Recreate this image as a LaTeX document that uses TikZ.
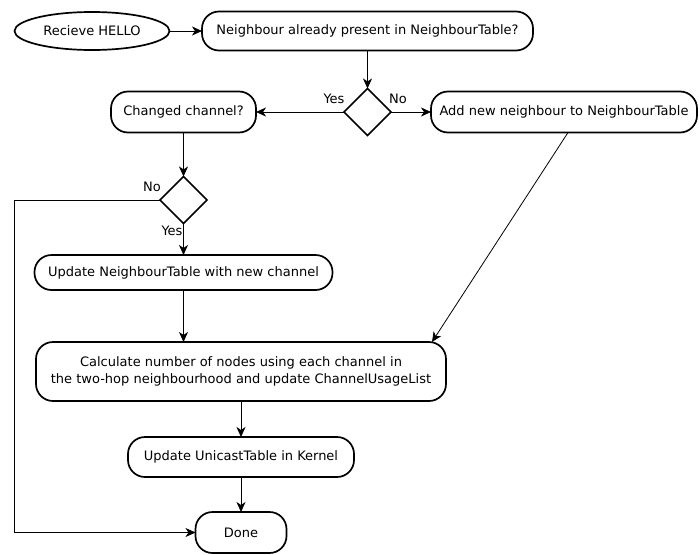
\documentclass[tikz,border=0pt]{standalone}
\usepackage{fontspec}
\setmainfont{DejaVu Sans}
\usetikzlibrary{shapes,arrows.meta,positioning}

\begin{document}
\begin{tikzpicture}[x=1pt, y=-1pt, >={Stealth[length=10pt,width=9pt,inset=3pt]}, font=\fontsize{13}{17}\selectfont,
  every node/.style={outer sep=0pt},
  box/.style={draw, line width=1.7pt, rounded corners=17pt, minimum height=39pt, inner sep=0pt},
  choice/.style={draw, diamond, line width=1.7pt, minimum width=47pt, minimum height=47pt, inner sep=0pt},
  link/.style={->, line width=0.8pt}]
\useasboundingbox (0,0) rectangle (700,554);

% Top row
\node[draw, ellipse, line width=1.7pt, minimum width=155pt, minimum height=38pt, inner sep=0pt] (hello) at (92,31) {Recieve HELLO};
\node[box, minimum width=331pt] (present) at (367.5,31) {Neighbour already present in NeighbourTable?};

% First decision
\node[choice] (known) at (367.5,112) {};
\node[box, minimum width=145pt, minimum height=41pt] (changed) at (183.5,112) {Changed channel?};
\node[box, minimum width=266pt, minimum height=41pt] (add) at (564,112) {Add new neighbour to NeighbourTable};
\node (yes1) at (334,99) {Yes};
\node (no1) at (398,99) {No};

% Second decision
\node[choice] (moved) at (183.5,200) {};
\node (no2) at (152,187) {No};
\node (yes2) at (172,231) {Yes};
\coordinate (bend) at (14,200);

% Lower column
\node[box, minimum width=298pt, minimum height=35pt] (update) at (183.5,272.5) {Update NeighbourTable with new channel};
\node[box, minimum width=410pt, minimum height=59pt, align=center] (calc) at (241,371.5) {Calculate number of nodes using each channel in\\the two-hop neighbourhood and update ChannelUsageList};
\node[box, minimum width=226pt, minimum height=40pt] (kernel) at (241,457) {Update UnicastTable in Kernel};
\node[box, minimum width=91pt, minimum height=41pt] (done) at (241,532.5) {Done};

% Connectors
\draw[link] (hello) -- (present);
\draw[link] (present) -- (known);
\draw[link] (known.west) -- (changed.east);
\draw[link] (known.east) -- (add.west);
\draw[link] (changed) -- (moved);
\draw[link] (moved) -- (update);
\draw[link] (update.south) -- (update.south |- calc.north);
\draw[link] ([xshift=4pt]add.south) -- ([xshift=-14pt]calc.north east);
\draw[link] (calc.south -| kernel.north) -- (kernel);
\draw[link] (kernel) -- (done);
\draw[link] (moved.west) -- (bend) |- (done.west);
\end{tikzpicture}
\end{document}
